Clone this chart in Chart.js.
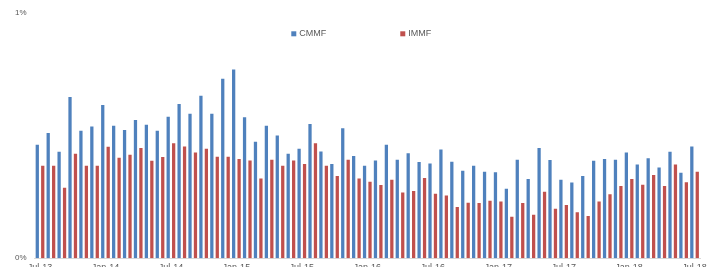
<!DOCTYPE html>
<html>
<head>
<meta charset="utf-8">
<script src="https://cdn.jsdelivr.net/npm/chart.js@4"></script>
<style>
    html, body { margin: 0; padding: 0; background: #fff; overflow: hidden; }
    #wrap { position: relative; width: 712px; height: 278px; }
</style>
</head>
<body>
<div id="wrap"><canvas id="fundChart"></canvas></div>
<script>
const months = [
    'Jul-13', 'Aug-13', 'Sep-13', 'Oct-13', 'Nov-13', 'Dec-13',
    'Jan-14', 'Feb-14', 'Mar-14', 'Apr-14', 'May-14', 'Jun-14',
    'Jul-14', 'Aug-14', 'Sep-14', 'Oct-14', 'Nov-14', 'Dec-14',
    'Jan-15', 'Feb-15', 'Mar-15', 'Apr-15', 'May-15', 'Jun-15',
    'Jul-15', 'Aug-15', 'Sep-15', 'Oct-15', 'Nov-15', 'Dec-15',
    'Jan-16', 'Feb-16', 'Mar-16', 'Apr-16', 'May-16', 'Jun-16',
    'Jul-16', 'Aug-16', 'Sep-16', 'Oct-16', 'Nov-16', 'Dec-16',
    'Jan-17', 'Feb-17', 'Mar-17', 'Apr-17', 'May-17', 'Jun-17',
    'Jul-17', 'Aug-17', 'Sep-17', 'Oct-17', 'Nov-17', 'Dec-17',
    'Jan-18', 'Feb-18', 'Mar-18', 'Apr-18', 'May-18', 'Jun-18',
    'Jul-18'
];

// values in percent
const cmmf = [
    0.462, 0.510, 0.434, 0.657, 0.519, 0.537, 0.624, 0.540, 0.522, 0.563,
    0.544, 0.519, 0.576, 0.628, 0.589, 0.662, 0.589, 0.731, 0.769, 0.574,
    0.475, 0.540, 0.500, 0.426, 0.446, 0.547, 0.435, 0.384, 0.530, 0.416,
    0.377, 0.398, 0.462, 0.401, 0.428, 0.392, 0.386, 0.443, 0.393, 0.356,
    0.377, 0.352, 0.350, 0.283, 0.401, 0.323, 0.449, 0.400, 0.320, 0.308,
    0.335, 0.397, 0.404, 0.401, 0.431, 0.382, 0.407, 0.370, 0.434, 0.348,
    0.455
];

const immf = [
    0.377, 0.377, 0.287, 0.426, 0.377, 0.377, 0.454, 0.409, 0.422, 0.449,
    0.397, 0.412, 0.468, 0.455, 0.431, 0.446, 0.413, 0.413, 0.404, 0.398,
    0.325, 0.401, 0.377, 0.398, 0.384, 0.468, 0.377, 0.335, 0.401, 0.325,
    0.312, 0.298, 0.320, 0.268, 0.274, 0.327, 0.263, 0.256, 0.209, 0.226,
    0.225, 0.234, 0.231, 0.169, 0.225, 0.177, 0.271, 0.202, 0.217, 0.187,
    0.172, 0.231, 0.261, 0.294, 0.323, 0.299, 0.339, 0.294, 0.382, 0.309,
    0.352
];

const yTicks = [0, 1];
const labelEvery = 6;

const textColor = '#595959';
const fontFamily = '"Liberation Sans", Arial, sans-serif';

// legend drawn inside the plot, just under the 1% line (like the Excel original)
const innerLegend = {
    id: 'innerLegend',
    afterDraw(chart) {
        const { ctx, chartArea } = chart;
        const box = 5, gap = 3, itemGap = 74;
        ctx.save();
        ctx.font = '9px ' + fontFamily;
        ctx.textBaseline = 'middle';
        const items = chart.data.datasets.map(ds => ({
            text: ds.label,
            color: ds.backgroundColor,
            w: box + gap + ctx.measureText(ds.label).width
        }));
        const total = items.reduce((s, it) => s + it.w, 0) + itemGap * (items.length - 1);
        let x = (chartArea.left + chartArea.right) / 2 - 6 - total / 2;
        const y = chartArea.top + 21;
        items.forEach(it => {
            ctx.fillStyle = it.color;
            ctx.fillRect(x, y - box / 2, box, box);
            ctx.fillStyle = textColor;
            ctx.fillText(it.text, x + box + gap, y);
            x += it.w + itemGap;
        });
        ctx.restore();
    }
};

const ctx = document.getElementById('fundChart').getContext('2d');

new Chart(ctx, {
    type: 'bar',
    data: {
        labels: months,
        datasets: [
            {
                label: 'CMMF',
                data: cmmf,
                backgroundColor: '#4F81BD',
                borderWidth: 0,
                categoryPercentage: 1.0,
                barPercentage: 0.6
            },
            {
                label: 'IMMF',
                data: immf,
                backgroundColor: '#C0504D',
                borderWidth: 0,
                categoryPercentage: 1.0,
                barPercentage: 0.6
            }
        ]
    },
    options: {
        responsive: true,
        maintainAspectRatio: false,
        animation: false,
        layout: {
            padding: { top: 7, left: 7, right: 12, bottom: 1 }
        },
        plugins: {
            tooltip: { enabled: false },
            legend: { display: false }
        },
        scales: {
            x: {
                grid: { display: false, drawTicks: false },
                border: { display: true, color: '#d9d9d9', width: 1 },
                ticks: {
                    autoSkip: false,
                    maxRotation: 0,
                    minRotation: 0,
                    padding: 4,
                    color: textColor,
                    font: { family: fontFamily, size: 9 },
                    callback: function (value, index) {
                        return index % labelEvery === 0 ? months[index] : '';
                    }
                }
            },
            y: {
                min: 0,
                max: 1,
                grid: { display: false, drawTicks: false },
                border: { display: false },
                afterBuildTicks: (axis) => {
                    axis.ticks = yTicks.map(v => ({ value: v }));
                },
                ticks: {
                    padding: 8,
                    color: textColor,
                    font: { family: fontFamily, size: 8 },
                    callback: (value) => value + '%'
                }
            }
        }
    },
    plugins: [innerLegend]
});
</script>
</body>
</html>
